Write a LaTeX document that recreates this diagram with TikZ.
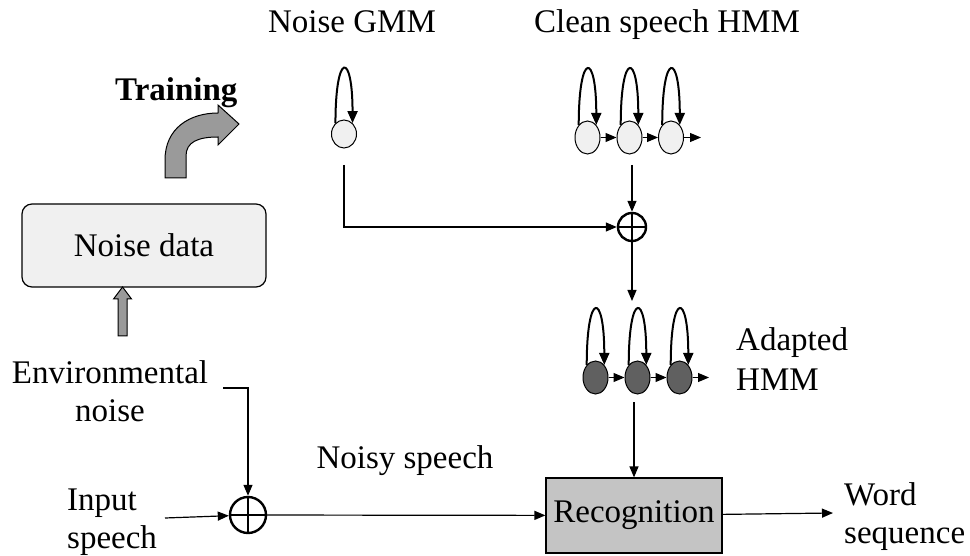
\documentclass[tikz,border=0pt]{standalone}
\usepackage{fontspec}
\setmainfont{Liberation Serif}
\usetikzlibrary{arrows.meta,shapes.geometric}
\definecolor{lightfill}{HTML}{F0F0F0}
\definecolor{darkfill}{HTML}{606060}
\definecolor{recfill}{HTML}{C4C4C4}
\definecolor{blockgray}{HTML}{9A9A9A}
\begin{document}
\begin{tikzpicture}[x=1pt,y=-1pt,
  lbl/.style={font=\fontsize{33}{40}\selectfont, inner sep=0pt},
  conn/.style={line width=1.2pt, -{Triangle[length=11pt,width=9pt]}},
  selfloop/.style={line width=2pt, -{Triangle[length=12pt,width=10pt]}},
  lightstate/.style={ellipse, draw, line width=1pt, fill=lightfill, minimum width=25pt, minimum height=33pt, inner sep=0pt},
  darkstate/.style={ellipse, draw, line width=1pt, fill=darkfill, minimum width=25pt, minimum height=33pt, inner sep=0pt},
  oplus/.style={circle, draw, line width=2.4pt, inner sep=0pt,
    path picture={\draw[line width=2.4pt] (path picture bounding box.north) -- (path picture bounding box.south) (path picture bounding box.west) -- (path picture bounding box.east);}},
  blockarrow/.style={draw, line width=1pt, fill=blockgray, line join=miter}
]
\useasboundingbox (0,0) rectangle (970,556);

% titles
\node[lbl, anchor=base] (tgmm) at (352,33) {Noise GMM};
\node[lbl, anchor=base] (thmm) at (667,33) {Clean speech HMM};
\node[lbl, anchor=base west] (ttr) at (115,101) {\textbf{Training}};

% noise GMM
\node[lightstate, minimum height=28pt] (g1) at (344,134) {};
\draw[selfloop] (g1.128) .. controls +(0,-72) and +(0,-72) .. (g1.52);

% clean speech HMM
\node[lightstate] (c1) at (587.5,137.5) {};
\node[lightstate] (c2) at (629.5,137.5) {};
\node[lightstate] (c3) at (671,137.5) {};
\coordinate (c4) at (701,137.5);
\foreach \s in {c1,c2,c3}{
  \draw[selfloop] (\s.125) .. controls +(0,-74) and +(0,-74) .. (\s.55);
}
\draw[conn] (c1) -- (c2);
\draw[conn] (c2) -- (c3);
\draw[conn] (c3) -- (c4);

% combination
\node[oplus, minimum size=28pt] (p1) at (632,227) {};
\coordinate (cs) at (632,165);
\coordinate (gs) at (344,165);
\draw[conn] (cs) -- (p1);
\draw[conn] (gs) |- (p1);

% adapted HMM
\node[darkstate] (a1) at (595.5,377.5) {};
\node[darkstate] (a2) at (637.5,377.5) {};
\node[darkstate] (a3) at (679.5,377.5) {};
\coordinate (a4) at (709,377.5);
\foreach \s in {a1,a2,a3}{
  \draw[selfloop] (\s.125) .. controls +(0,-74) and +(0,-74) .. (\s.55);
}
\draw[conn] (a1) -- (a2);
\draw[conn] (a2) -- (a3);
\draw[conn] (a3) -- (a4);
\coordinate (ae) at (632,301);
\draw[conn] (p1) -- (ae);
\node[lbl, anchor=base west] (tad1) at (736,350) {Adapted};
\node[lbl, anchor=base west] (tad2) at (736,390) {HMM};

% recognition
\node[draw, line width=1.2pt, fill=recfill, minimum width=176pt, minimum height=75pt, inner sep=0pt, font=\fontsize{33}{40}\selectfont] (rec) at (634,515.5) {Recognition};
\coordinate (as) at (634,402);
\draw[conn] (as) -- (rec);

% noise data
\node[draw, line width=1.2pt, fill=lightfill, rounded corners=10pt, minimum width=244pt, minimum height=83pt, inner sep=0pt, font=\fontsize{33}{40}\selectfont] (nd) at (144,245.5) {Noise data};

% block arrows
\draw[blockarrow] (118,336) -- (118,299) -- (113.5,299) -- (122.5,287) -- (131.5,299) -- (127,299) -- (127,336) -- cycle;
\draw[blockarrow] (165,178) -- (165,160) .. controls (165,128) and (190,113) .. (218,113) -- (218,105) -- (239,124) -- (218,145) -- (218,137) .. controls (198,137) and (186,142) .. (186,156) -- (186,178) -- cycle;

% environmental noise and input
\node[lbl, anchor=base] (ten1) at (110,383) {Environmental};
\node[lbl, anchor=base] (ten2) at (110,421) {noise};
\node[lbl, anchor=base west] (tin1) at (67,510) {Input};
\node[lbl, anchor=base west] (tin2) at (67,548) {speech};

\node[oplus, minimum size=36pt] (p2) at (248,515) {};
\coordinate (es) at (223,388);
\coordinate (is) at (165,518);
\draw[conn] (es) -| (p2);
\draw[conn] (is) -- (p2);
\draw[conn] (p2) -- (rec);
\node[lbl, anchor=base] (tns) at (405,468) {Noisy speech};

% output
\coordinate (we) at (833,513);
\draw[conn] (rec) -- (we);
\node[lbl, anchor=base west] (tw1) at (844,505) {Word};
\node[lbl, anchor=base west] (tw2) at (844,543) {sequence};
\end{tikzpicture}
\end{document}
